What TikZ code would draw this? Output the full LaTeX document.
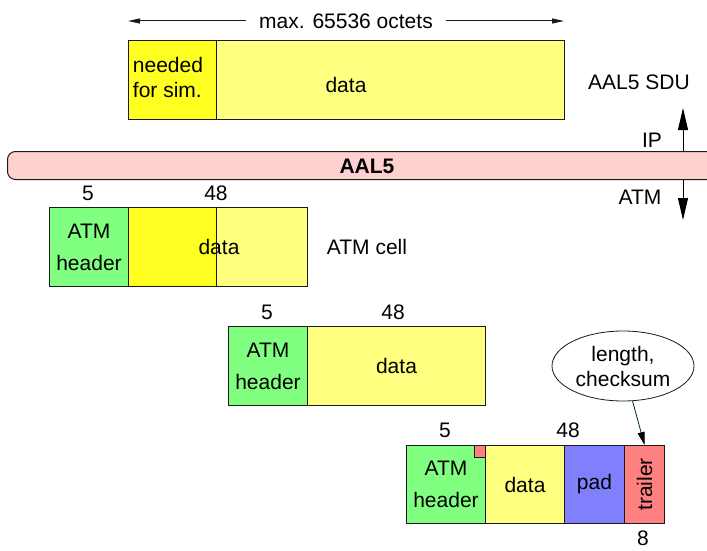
\documentclass[tikz,border=0pt]{standalone}
\usepackage{fontspec}
\setmainfont{Liberation Sans}
\usetikzlibrary{arrows.meta,shapes.geometric}

\definecolor{linec}{HTML}{1A1A1A}
\definecolor{lightyel}{HTML}{FFFF80}
\definecolor{brightyel}{HTML}{FFFF22}
\definecolor{hdrgreen}{HTML}{80FF80}
\definecolor{barpink}{HTML}{FFD0D0}
\definecolor{padblue}{HTML}{8080FF}
\definecolor{trlred}{HTML}{FF8080}
\definecolor{ptrgreen}{HTML}{003300}

\begin{document}
\begin{tikzpicture}[
  x=1pt, y=-1pt,
  every node/.style={font=\fontsize{21}{25}\selectfont, inner sep=0pt},
  field/.style={draw=linec, line width=1pt, rectangle, anchor=north west,
                align=center},
  twoline/.style={font=\fontsize{21}{32}\selectfont},
  sizearrow/.style={draw=linec, line width=1pt,
                    -{Triangle[length=12pt,width=5pt]}},
  layerarrow/.style={draw=black, line width=1pt,
                     -{Triangle[length=22pt,width=10pt]}},
]
\useasboundingbox (0,0) rectangle (707,551);

% ---- AAL5 service data unit ----
\node[inner xsep=13pt] (maxlen) at (346,21) {max. 65536 octets};
\coordinate (sduL) at (128,21);
\coordinate (sduR) at (564,21);
\draw[sizearrow] (maxlen.west) -- (sduL);
\draw[sizearrow] (maxlen.east) -- (sduR);

\node[field, fill=lightyel, minimum width=436pt, minimum height=79pt] (sdu) at (128,40) {};
\node[field, fill=brightyel, minimum width=88pt, minimum height=79pt] (sim) at (128,40) {};
\node[align=left] (simtext) at (168,77.5) {needed\\for sim.};
\node (sdudata) at (346,85) {data};
\node (sdulabel) at (639,82) {AAL5 SDU};

% ---- AAL5 layer bar ----
\node[field, fill=barpink, rounded corners=8pt, minimum width=760pt, minimum height=28pt] (aal) at (7,151) {};
\node[font=\fontsize{21}{25}\selectfont\bfseries] (aaltext) at (367,166) {AAL5};
\coordinate (ipc) at (683,108);
\coordinate (atmc) at (683,220);
\draw[layerarrow] (aal.north -| ipc) -- (ipc);
\draw[layerarrow] (aal.south -| atmc) -- (atmc);
\node (iplabel) at (652,140) {IP};
\node (atmlabel) at (640,197) {ATM};

% ---- first ATM cell (carries the start of the SDU) ----
\node[field, twoline, fill=hdrgreen, minimum width=79pt, minimum height=79pt] (h1) at (49,207) {ATM\\header};
\node[field, fill=lightyel, minimum width=179pt, minimum height=79pt] (d1) at (128,207) {};
\node[field, fill=brightyel, minimum width=88pt, minimum height=79pt] (b1) at (128,207) {};
\node (d1text) at (219,247) {data};
\node (n1a) at (88,193) {5};
\node (n1b) at (216,193) {48};
\node (celllabel) at (367,247) {ATM cell};

% ---- second ATM cell ----
\node[field, twoline, fill=hdrgreen, minimum width=79pt, minimum height=79pt] (h2) at (228,326) {ATM\\header};
\node[field, fill=lightyel, minimum width=178pt, minimum height=79pt] (d2) at (307,326) {data};
\node (n2a) at (267,312) {5};
\node (n2b) at (393,312) {48};

% ---- last ATM cell with padding and trailer ----
\node[field, twoline, fill=hdrgreen, minimum width=79pt, minimum height=78pt] (h3) at (406,445) {ATM\\header};
\node[field, fill=trlred, minimum width=11pt, minimum height=12pt] (flag) at (474,445) {};
\node[field, fill=lightyel, minimum width=79pt, minimum height=78pt] (d3) at (485,445) {data};
\node[field, fill=padblue, minimum width=60pt, minimum height=78pt] (pad) at (564,445) {pad};
\node[field, fill=trlred, minimum width=40pt, minimum height=78pt] (trailer) at (624,445) {};
\node[rotate=90] (trltext) at (trailer.center) {trailer};
\node (n3a) at (445,430) {5};
\node (n3b) at (568,430) {48};
\node (n3c) at (643,538) {8};

\node[ellipse, draw=linec, line width=0.8pt, fill=white, minimum width=142pt,
      minimum height=70pt, align=center] (info) at (623,366) {length,\\checksum};
\draw[draw=ptrgreen, line width=0.8pt,
      -{Triangle[length=13pt,width=7pt,fill=black,color=black]}] (info) -- (trailer.north);
\end{tikzpicture}
\end{document}
